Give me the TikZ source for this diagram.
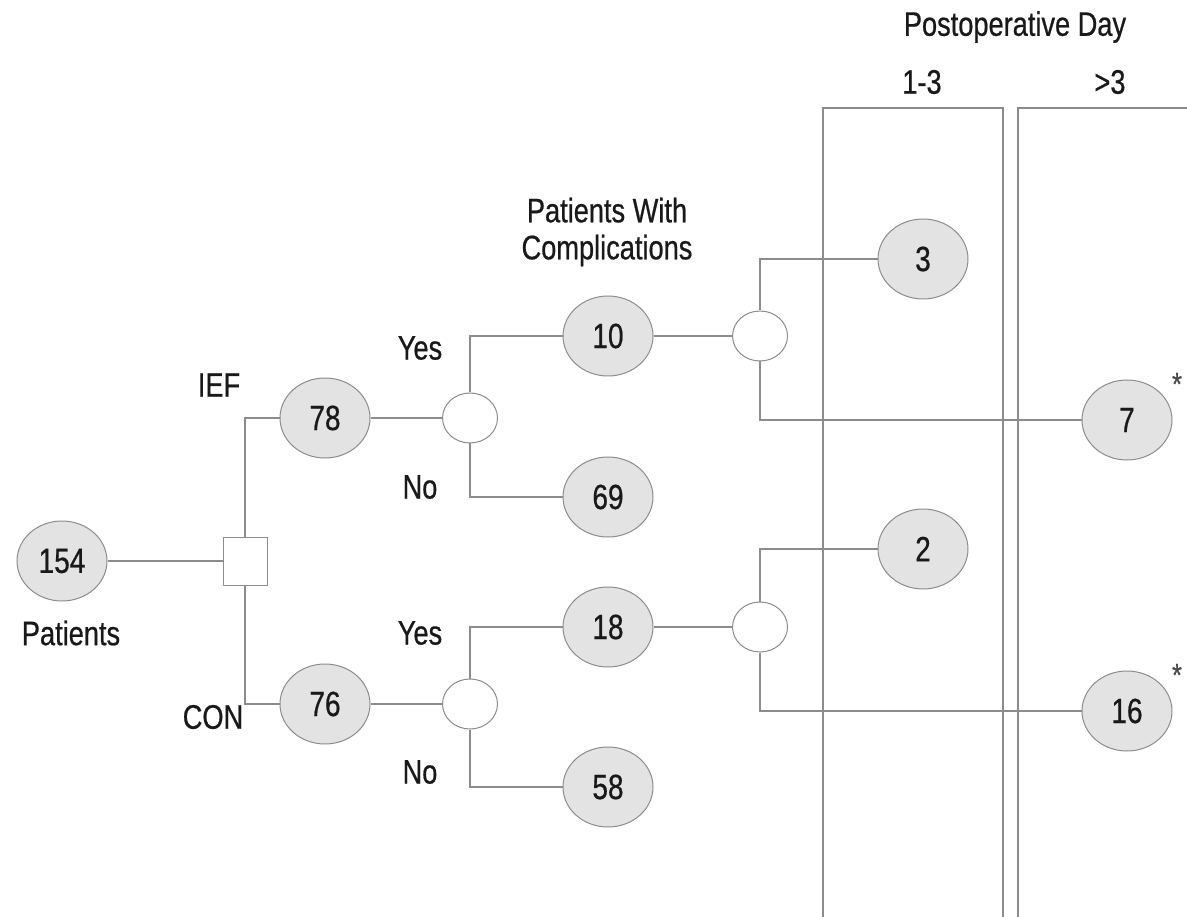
\documentclass[tikz,border=0pt]{standalone}
\usepackage{fontspec}
\setmainfont{Liberation Sans}[FakeStretch=0.8,FakeBold=0.6]
\begin{document}
\begin{tikzpicture}[x=1pt,y=-1pt,
  line/.style={draw=black!45, line width=1.3pt},
  outcome/.style={ellipse, draw=black!45, line width=1pt, fill=black!11, minimum width=90pt, minimum height=80pt, inner sep=0pt, font=\fontsize{35}{38}\selectfont, text=black!90},
  chance/.style={ellipse, draw=black!45, line width=1pt, fill=white, minimum width=55pt, minimum height=50pt, inner sep=0pt},
  decision/.style={rectangle, draw=black!45, line width=1pt, fill=white, minimum width=44pt, minimum height=48pt, inner sep=0pt},
  lbl/.style={font=\fontsize{34}{37}\selectfont, text=black!90, inner sep=0pt},
  ast/.style={font=\fontsize{32}{34}\selectfont, text=black!70, inner sep=0pt}]
\usetikzlibrary{shapes.geometric}
\useasboundingbox (0,0) rectangle (1187,917);
% period boxes
\draw[line] (823,917) -- (823,108) -- (1003,108) -- (1003,917);
\draw[line] (1018,917) -- (1018,108) -- (1187,108);
% nodes
\node[outcome] (n154) at (62,561) {154};
\node[decision] (sq) at (245,561) {};
\node[outcome] (n78) at (325,418) {78};
\node[outcome] (n76) at (325,704) {76};
\node[chance] (c1) at (470,418) {};
\node[chance] (c2) at (470,704) {};
\node[outcome] (n10) at (608,336) {10};
\node[outcome] (n69) at (608,497) {69};
\node[outcome] (n18) at (608,627) {18};
\node[outcome] (n58) at (608,787) {58};
\node[chance] (c3) at (760,336) {};
\node[chance] (c4) at (760,627) {};
\node[outcome] (n3) at (923,259) {3};
\node[outcome] (n7) at (1127,420) {7};
\node[outcome] (n2) at (923,549) {2};
\node[outcome] (n16) at (1127,711) {16};
% connectors
\draw[line] (n154) -- (sq);
\draw[line] (sq.north) |- (n78.west);
\draw[line] (sq.south) |- (n76.west);
\draw[line] (n78) -- (c1);
\draw[line] (n76) -- (c2);
\draw[line] (c1.north) |- (n10.west);
\draw[line] (c1.south) |- (n69.west);
\draw[line] (c2.north) |- (n18.west);
\draw[line] (c2.south) |- (n58.west);
\draw[line] (n10) -- (c3);
\draw[line] (n18) -- (c4);
\draw[line] (c3.north) |- (n3.west);
\draw[line] (c3.south) |- (n7.west);
\draw[line] (c4.north) |- (n2.west);
\draw[line] (c4.south) |- (n16.west);
% labels
\node[lbl] (tpat) at (71,633) {Patients};
\node[lbl] (tief) at (219,385) {IEF};
\node[lbl] (tcon) at (213,717) {CON};
\node[lbl] (ty1) at (420,348) {Yes};
\node[lbl] (tn1) at (420,487) {No};
\node[lbl] (ty2) at (420,633) {Yes};
\node[lbl] (tn2) at (420,772) {No};
\node[lbl, align=center] (tpwc) at (607,232) {Patients With\\Complications};
\node[lbl] (tpod) at (1015,27) {Postoperative Day};
\node[lbl] (t13) at (922,82) {1-3};
\node[lbl] (tg3) at (1110,82) {>3};
\node[ast] (a1) at (1177,384) {*};
\node[ast] (a2) at (1177,675) {*};
\end{tikzpicture}
\end{document}
